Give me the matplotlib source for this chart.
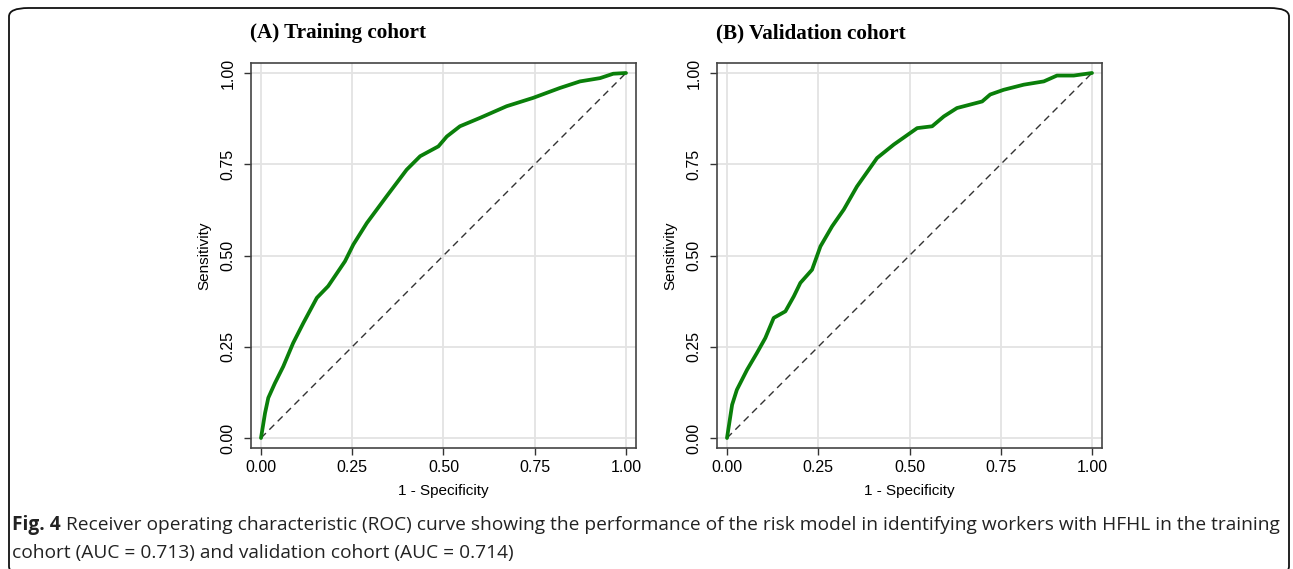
import matplotlib
matplotlib.use("Agg")
import matplotlib.pyplot as plt
from matplotlib.patches import FancyBboxPatch

# ROC curve points (1 - specificity, sensitivity)
train_fpr = [0.0, 0.011, 0.020, 0.038, 0.061, 0.088, 0.116, 0.153, 0.184, 0.230, 0.253,
             0.290, 0.344, 0.399, 0.436, 0.486, 0.509, 0.545, 0.600, 0.673, 0.746,
             0.819, 0.874, 0.929, 0.965, 1.0]
train_tpr = [0.0, 0.068, 0.110, 0.150, 0.196, 0.260, 0.315, 0.384, 0.416, 0.484, 0.530,
             0.589, 0.662, 0.735, 0.772, 0.799, 0.826, 0.854, 0.877, 0.909, 0.932,
             0.959, 0.977, 0.986, 0.998, 1.0]

valid_fpr = [0.0, 0.014, 0.027, 0.055, 0.082, 0.105, 0.128, 0.160, 0.183, 0.201, 0.233,
             0.256, 0.288, 0.320, 0.356, 0.411, 0.457, 0.521, 0.562, 0.594, 0.630,
             0.699, 0.721, 0.758, 0.813, 0.868, 0.904, 0.950, 1.0]
valid_tpr = [0.0, 0.091, 0.132, 0.187, 0.233, 0.274, 0.329, 0.347, 0.388, 0.425, 0.461,
             0.525, 0.580, 0.626, 0.689, 0.767, 0.804, 0.849, 0.854, 0.881, 0.904,
             0.922, 0.941, 0.954, 0.968, 0.977, 0.993, 0.993, 1.0]

titles = ["(A) Training cohort", "(B) Validation cohort"]
ticks = [0, 0.25, 0.5, 0.75, 1.0]
tick_labels = ["0.00", "0.25", "0.50", "0.75", "1.00"]

W, H = 1293, 569
fig = plt.figure(figsize=(W / 100, H / 100), dpi=100)

# outer rounded frame
frame = FancyBboxPatch((9 / W, 1 - 575 / H), 1280 / W, 567 / H,
                       boxstyle="round,pad=0,rounding_size=0.015",
                       transform=fig.transFigure, fill=False, ec="#111111", lw=1.3)
fig.patches.append(frame)

lefts = [251, 717]
curves = [(train_fpr, train_tpr), (valid_fpr, valid_tpr)]
for left, (fx, ty), title in zip(lefts, curves, titles):
    ax = fig.add_axes([left / W, 1 - 448 / H, 385 / W, 385 / H])
    pad = 10 / 365
    ax.set_xlim(-pad, 1 + pad)
    ax.set_ylim(-pad, 1 + pad)
    ax.grid(True, color="#e3e3e3", lw=1.3)
    ax.set_axisbelow(True)
    ax.plot([0, 1], [0, 1], color="#333333", lw=1.0, ls=(0, (5, 3.5)))
    ax.plot(fx, ty, color="#0a7f0a", lw=2.7, solid_capstyle="round")
    ax.set_xticks(ticks)
    ax.set_xticklabels(tick_labels, fontsize=11.5, family="Liberation Sans")
    ax.set_yticks(ticks)
    ax.set_yticklabels(tick_labels, fontsize=11.5, family="Liberation Sans",
                       rotation=90, va="center")
    ax.tick_params(direction="out", length=5, width=1, color="#333333", pad=4)
    ax.tick_params(axis="y", pad=6)
    for s in ax.spines.values():
        s.set_color("#444444")
        s.set_linewidth(1.2)
    ax.set_xlabel("1 - Specificity", fontsize=11, family="Liberation Sans", labelpad=6)
    ax.set_ylabel("Sensitivity", fontsize=11, family="Liberation Sans", labelpad=7)
    fig.text((left - 1) / W, 1 - 33 / H, title, fontsize=15.2, fontweight="bold",
             family="Liberation Serif", va="center", ha="left")

# caption
cap_font = "Open Sans"
fs = 13.8
t1 = fig.text(12 / W, 1 - 530 / H, "Fig. 4", fontsize=fs, fontweight="bold",
              family=cap_font, va="baseline", color="#222222")
fig.canvas.draw()
bb = t1.get_window_extent(fig.canvas.get_renderer())
fig.text((bb.x1 + 5) / W, 1 - 530 / H,
         "Receiver operating characteristic (ROC) curve showing the performance of the risk model "
         "in identifying workers with HFHL in the training",
         fontsize=fs, family=cap_font, va="baseline", color="#222222")
fig.text(12 / W, 1 - 558 / H, "cohort (AUC = 0.713) and validation cohort (AUC = 0.714)",
         fontsize=fs, family=cap_font, va="baseline", color="#222222")

fig.savefig("out.png", dpi=100)
